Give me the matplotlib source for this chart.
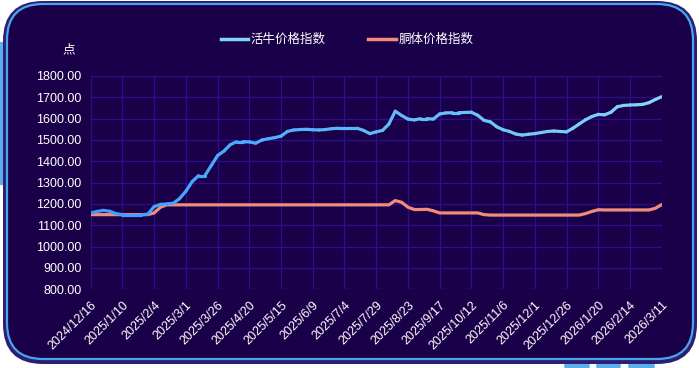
import matplotlib
matplotlib.use("Agg")
import matplotlib.pyplot as plt
import numpy as np
import pandas as pd
from matplotlib.collections import LineCollection
from matplotlib.colors import LinearSegmentedColormap
from matplotlib.lines import Line2D
from matplotlib.patches import FancyBboxPatch, Rectangle

plt.rcParams["font.family"] = ["Liberation Sans", "Noto Sans CJK SC", "DejaVu Sans"]

# one reading every 5 days, 2024/12/16 .. 2026/3/11
dates = pd.date_range("2024-12-16", "2026-03-11", freq="5D")

cattle_idx = [
    1158, 1165, 1170, 1166, 1155, 1150, 1150, 1150, 1150, 1152,
    1188, 1198, 1200, 1203, 1225, 1260, 1305, 1333, 1333, 1380,
    1427, 1448, 1478, 1492, 1492, 1491, 1485, 1500, 1506, 1511,
    1518, 1540, 1547, 1549, 1550, 1548, 1547, 1549, 1553, 1555,
    1555, 1555, 1555, 1545, 1530, 1538, 1545, 1575, 1635, 1615,
    1598, 1594, 1600, 1600, 1598, 1622, 1627, 1628, 1628, 1629,
    1630, 1616, 1592, 1585, 1562, 1548, 1540, 1528, 1523, 1527,
    1530, 1535, 1540, 1542, 1540, 1538, 1555, 1575, 1595, 1610,
    1620, 1618, 1630, 1656, 1662, 1664, 1665, 1667, 1675, 1690,
    1703,
]
carcass_idx = [
    1150, 1150, 1150, 1150, 1150, 1150, 1150, 1150, 1150, 1150,
    1158, 1185, 1196, 1196, 1196, 1196, 1196, 1196, 1196, 1196,
    1196, 1196, 1196, 1196, 1196, 1196, 1196, 1196, 1196, 1196,
    1196, 1196, 1196, 1196, 1196, 1196, 1196, 1196, 1196, 1196,
    1196, 1196, 1196, 1196, 1196, 1196, 1196, 1196, 1216, 1208,
    1185, 1174, 1174, 1175, 1168, 1158, 1158, 1158, 1158, 1158,
    1158, 1158, 1150, 1148, 1148, 1148, 1148, 1148, 1148, 1148,
    1148, 1148, 1148, 1148, 1148, 1148, 1148, 1148, 1155, 1165,
    1173, 1172, 1172, 1172, 1172, 1172, 1172, 1172, 1172, 1180,
    1197,
]
series_names = ["活牛价格指数", "胴体价格指数"]
y_ticks = [800, 900, 1000, 1100, 1200, 1300, 1400, 1500, 1600, 1700, 1800]

PANEL = "#1a0048"
GRID = "#2a0e8a"
BLUE_A, BLUE_B = "#3a9cff", "#84d6f6"
ORANGE = "#f28c78"

W, H = 699, 368
fig = plt.figure(figsize=(W / 100, H / 100), dpi=100)
fig.patch.set_facecolor("white")

# decorative frame drawn in pixel coordinates
bg = fig.add_axes([0, 0, 1, 1], zorder=-1)
bg.set_xlim(0, W); bg.set_ylim(H, 0); bg.axis("off")
bg.add_patch(Rectangle((0, 42), 10, 142, color="#5aaef0"))
for x0, x1 in [(565, 589), (597, 620), (629, 654)]:
    bg.add_patch(FancyBboxPatch((x0, 358), x1 - x0, 14, boxstyle="round,pad=0,rounding_size=4",
                                color="#5aaef0"))
bg.add_patch(FancyBboxPatch((3, 1), 694, 363, boxstyle="round,pad=0,rounding_size=40",
                            fc="#2b1f70", ec="none"))
bg.add_patch(FancyBboxPatch((7, 4), 686, 355, boxstyle="round,pad=0,rounding_size=36",
                            fc=PANEL, ec="#4aa3ee", lw=1.6))

ax = fig.add_axes([90.7 / W, 1 - 289.3 / H, 571 / W, 213.3 / H])
ax.set_facecolor("none")
x = np.arange(len(dates))

pts = np.column_stack([x, cattle_idx]).reshape(-1, 1, 2)
segs = np.concatenate([pts[:-1], pts[1:]], axis=1)
cmap = LinearSegmentedColormap.from_list("blue", [BLUE_A, BLUE_B])
lc = LineCollection(segs, cmap=cmap, linewidths=2.3, capstyle="round", joinstyle="round", zorder=3)
lc.set_array(np.linspace(0, 1, len(segs)))
ax.add_collection(lc)
ax.plot(x, carcass_idx, color=ORANGE, lw=2.3, solid_capstyle="round", zorder=2)

ax.set_xlim(0, len(dates) - 1)
ax.set_ylim(800, 1800)
ax.set_yticks(y_ticks)
ax.set_yticklabels([f"{v:.2f}" for v in y_ticks])
tick_pos = x[::5]
ax.set_xticks(tick_pos)
ax.set_xticklabels([f"{d.year}/{d.month}/{d.day}" for d in dates[::5]],
                   rotation=45, ha="right", va="top", rotation_mode="anchor")
ax.tick_params(axis="both", length=0, colors="white", labelsize=9)
ax.tick_params(axis="y", pad=6.5)
ax.tick_params(axis="x", pad=7)
ax.grid(True, color=GRID, lw=1)
for s in ax.spines.values():
    s.set_visible(False)

fig.text(69 / W, 1 - 50 / H, "点", color="white", fontsize=9, ha="center", va="center")

handles = [Line2D([], [], color=BLUE_B, lw=2.5), Line2D([], [], color=ORANGE, lw=2.5)]
leg = fig.legend(handles, series_names, loc="center", bbox_to_anchor=(347 / W, 1 - 40 / H),
                 ncol=2, frameon=False, fontsize=9, handlelength=2.2, handletextpad=0.2,
                 columnspacing=3.4)
for t in leg.get_texts():
    t.set_color("white")

fig.savefig("out.png", dpi=100, facecolor=fig.get_facecolor())
